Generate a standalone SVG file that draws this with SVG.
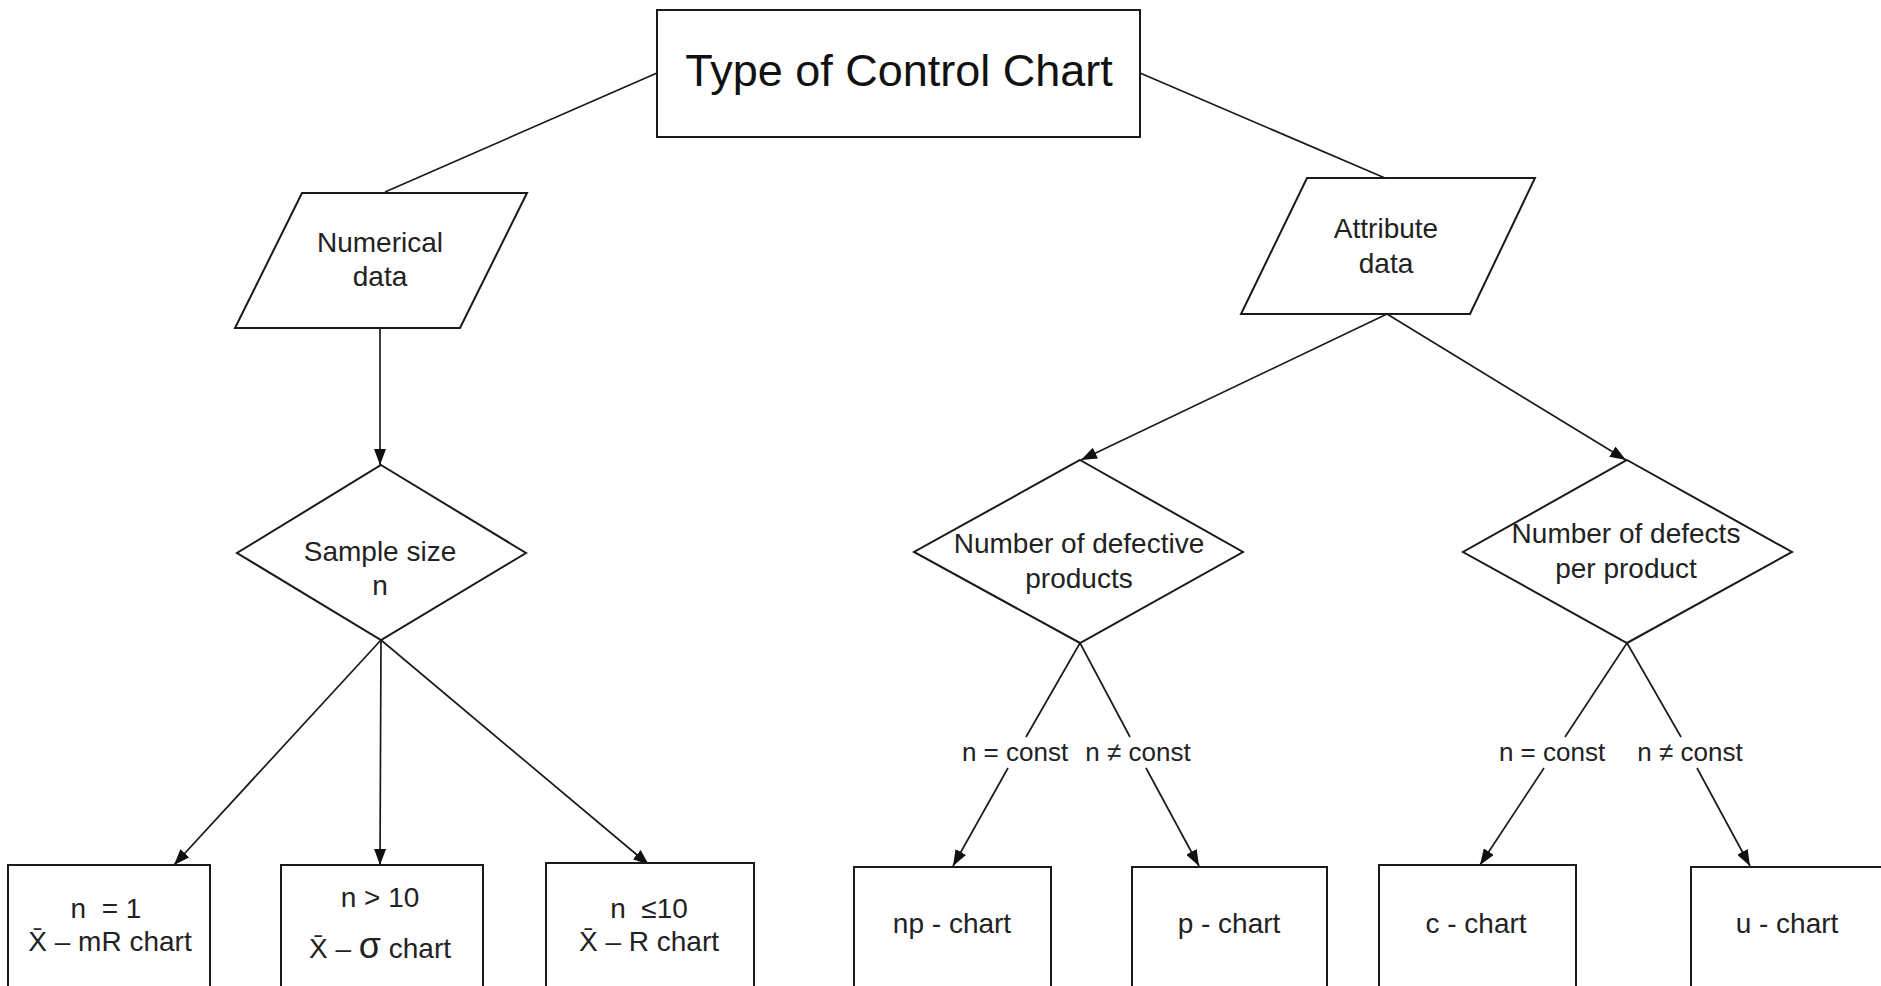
<svg xmlns="http://www.w3.org/2000/svg" width="1881" height="986" viewBox="0 0 1881 986">
<defs>
<marker id="arr" markerUnits="userSpaceOnUse" markerWidth="16" markerHeight="12" viewBox="0 0 16 12" refX="16" refY="6" orient="auto">
<path d="M0,0 L16,6 L0,12 z" fill="#111"/>
</marker>
<style>
.shape{fill:#fff;stroke:#1a1a1a;stroke-width:2}
.ln{stroke:#1a1a1a;stroke-width:1.7;fill:none}
.arr{marker-end:url(#arr)}
text{font-family:"Liberation Sans",Arial,sans-serif;fill:#222;text-anchor:middle}
.t{font-size:28px}
.lbl{font-size:26px}
.title{font-size:45px;fill:#111}
</style>
</defs>
<rect width="1881" height="986" fill="#fff"/>

<g id="connectors">
<line class="ln" x1="657" y1="73" x2="385" y2="192"/>
<line class="ln" x1="1140" y1="73" x2="1385" y2="178"/>
<line class="ln arr" x1="380" y1="329" x2="380" y2="465"/>
<line class="ln arr" x1="381" y1="640" x2="174" y2="865"/>
<line class="ln arr" x1="381" y1="640" x2="380" y2="865"/>
<line class="ln arr" x1="381" y1="640" x2="649" y2="865"/>
<line class="ln arr" x1="1387" y1="314" x2="1081" y2="460"/>
<line class="ln arr" x1="1387" y1="314" x2="1626" y2="460"/>
<line class="ln" x1="1080" y1="643" x2="1026" y2="737"/>
<line class="ln arr" x1="1008" y1="768" x2="953" y2="866"/>
<line class="ln" x1="1080" y1="643" x2="1130" y2="737"/>
<line class="ln arr" x1="1146" y1="768" x2="1199" y2="866"/>
<line class="ln" x1="1627" y1="643" x2="1565" y2="737"/>
<line class="ln arr" x1="1544" y1="768" x2="1480" y2="865"/>
<line class="ln" x1="1627" y1="643" x2="1681" y2="737"/>
<line class="ln arr" x1="1697" y1="768" x2="1750" y2="866"/>
<text class="lbl" x="1015" y="761">n = const</text>
<text class="lbl" x="1138" y="761">n ≠ const</text>
<text class="lbl" x="1552" y="761">n = const</text>
<text class="lbl" x="1690" y="761">n ≠ const</text>
</g>

<g id="title">
<rect class="shape" x="657" y="10" width="483" height="127"/>
<text class="title" x="899" y="86">Type of Control Chart</text>
</g>

<g id="numerical">
<polygon class="shape" points="302,193 527,193 460,328 235,328"/>
<text class="t" x="380" y="252">Numerical</text>
<text class="t" x="380" y="286">data</text>
</g>

<g id="attribute">
<polygon class="shape" points="1307,178 1535,178 1470,314 1241,314"/>
<text class="t" x="1386" y="238">Attribute</text>
<text class="t" x="1386" y="273">data</text>
</g>

<g id="sample-size">
<polygon class="shape" points="381,465 526,553 381,640 237,553"/>
<text class="t" x="380" y="561">Sample size</text>
<text class="t" x="380" y="595">n</text>
</g>

<g id="defective">
<polygon class="shape" points="1080,460 1243,552 1080,643 914,552"/>
<text class="t" x="1079" y="553">Number of defective</text>
<text class="t" x="1079" y="588">products</text>
</g>

<g id="defects">
<polygon class="shape" points="1627,460 1792,552 1627,643 1463,552"/>
<text class="t" x="1626" y="543">Number of defects</text>
<text class="t" x="1626" y="578">per product</text>
</g>

<g id="x-mr">
<rect class="shape" x="8" y="865" width="202" height="140"/>
<text class="t" x="106" y="918" xml:space="preserve">n  = 1</text>
<text class="t" x="110" y="951">X̄ – mR chart</text>
</g>

<g id="x-sigma">
<rect class="shape" x="281" y="865" width="202" height="140"/>
<text class="t" x="380" y="907">n &gt; 10</text>
<text class="t" x="380" y="958">X̄ – <tspan font-size="36">σ</tspan> chart</text>
</g>

<g id="x-r">
<rect class="shape" x="546" y="863" width="208" height="140"/>
<text class="t" x="649" y="918" xml:space="preserve">n  ≤10</text>
<text class="t" x="649" y="951">X̄ – R chart</text>
</g>

<g id="np-chart">
<rect class="shape" x="854" y="867" width="197" height="140"/>
<text class="t" x="952" y="933">np - chart</text>
</g>

<g id="p-chart">
<rect class="shape" x="1132" y="867" width="195" height="140"/>
<text class="t" x="1229" y="933">p - chart</text>
</g>

<g id="c-chart">
<rect class="shape" x="1379" y="865" width="197" height="140"/>
<text class="t" x="1476" y="933">c - chart</text>
</g>

<g id="u-chart">
<rect class="shape" x="1691" y="867" width="210" height="140"/>
<text class="t" x="1787" y="933">u - chart</text>
</g>
</svg>
